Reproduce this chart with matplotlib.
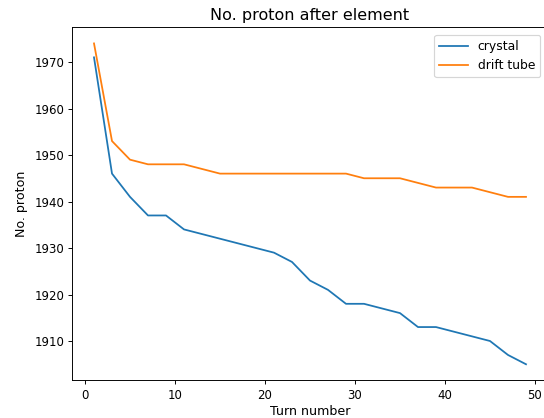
import matplotlib
matplotlib.use("Agg")
import matplotlib.pyplot as plt

turns = list(range(1, 50, 2))
crystal = [1971, 1946, 1941, 1937, 1937, 1934, 1933, 1932, 1931, 1930, 1929, 1927, 1923,
           1921, 1918, 1918, 1917, 1916, 1913, 1913, 1912, 1911, 1910, 1907, 1905]
drift_tube = [1974, 1953, 1949, 1948, 1948, 1948, 1947, 1946, 1946, 1946, 1946, 1946, 1946,
              1946, 1946, 1945, 1945, 1945, 1944, 1943, 1943, 1943, 1942, 1941, 1941]

DPI = 85
fig = plt.figure(figsize=(544 / DPI, 418 / DPI), dpi=DPI)
ax = fig.add_axes([0.1331, 0.0902, 0.8735, 0.8443])
ax.plot(turns, crystal, label="crystal")
ax.plot(turns, drift_tube, label="drift tube")
ax.set_title("No. proton after element", fontsize=13.5)
ax.set_xlabel("Turn number", fontsize=10.7, labelpad=3)
ax.set_ylabel("No. proton", fontsize=10.7, labelpad=5)
ax.legend(loc="upper right", bbox_to_anchor=(540 / 544, 1 - 35 / 418),
          bbox_transform=fig.transFigure, borderaxespad=0, fontsize=10.5,
          handlelength=2.3)
fig.savefig("out.png", dpi=DPI)
